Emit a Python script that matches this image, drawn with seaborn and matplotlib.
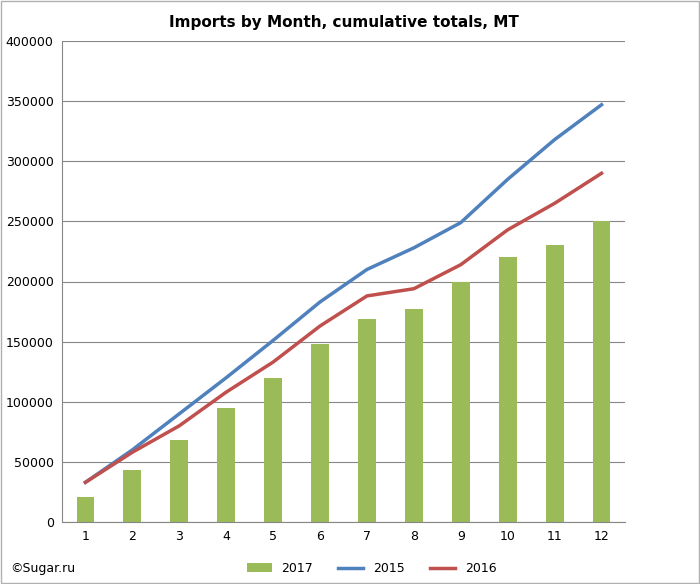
import numpy as np
import pandas as pd
import matplotlib
matplotlib.use("Agg")
import matplotlib.pyplot as plt
import seaborn as sns

months = list(range(1, 13))
imports_2017 = [21000, 43000, 68000, 95000, 120000, 148000, 169000, 177000, 200000, 220000, 230000, 250000]
imports_2015 = [33000, 60000, 90000, 120000, 151000, 183000, 210000, 228000, 249000, 285000, 318000, 347000]
imports_2016 = [33000, 58000, 80000, 108000, 133000, 163000, 188000, 194000, 214000, 243000, 265000, 290000]

df = pd.DataFrame({"month": months, "2017": imports_2017, "2015": imports_2015, "2016": imports_2016})

fig = plt.figure(figsize=(7.0, 5.84), dpi=100)
ax = fig.add_axes([62 / 700, 62 / 584, 563 / 700, 481 / 584])

x = np.arange(len(months))
sns.barplot(x=x, y=df["2017"], color="#9bbb59", width=0.38, saturation=1, ax=ax, label="2017", zorder=2)
ax.plot(x, df["2015"], color="#4f81bd", lw=2.5, label="2015", zorder=3)
ax.plot(x, df["2016"], color="#c0504d", lw=2.5, label="2016", zorder=3)

ax.set_xlim(-0.5, 11.5)
ax.set_ylim(0, 400000)
ax.set_yticks(range(0, 400001, 50000))
ax.set_xticks(x)
ax.set_xticklabels([str(m) for m in months])
ax.yaxis.grid(True, color="#868686", lw=0.8, zorder=0)
ax.set_axisbelow(True)
for s in ["top", "right"]:
    ax.spines[s].set_visible(False)
ax.spines["left"].set_color("#868686")
ax.spines["bottom"].set_color("#868686")
ax.tick_params(labelsize=9, length=0, pad=6)
ax.set_xlabel("")
ax.set_ylabel("")
ax.set_title("Imports by Month, cumulative totals, MT", fontsize=11, fontweight="bold", pad=10)

handles, labels = ax.get_legend_handles_labels()
order = [labels.index(l) for l in ["2017", "2015", "2016"]]
ax.legend([handles[i] for i in order], [labels[i] for i in order],
          loc="upper center", bbox_to_anchor=(0.55, -0.06), ncol=3, frameon=False, fontsize=9)
fig.text(10 / 700, 12 / 584, "©Sugar.ru", fontsize=9)
fig.patches.append(plt.Rectangle((0.002, 0.002), 0.996, 0.996, transform=fig.transFigure,
                                 fill=False, edgecolor="#b0b0b0", lw=1))
fig.savefig("out.png", dpi=100)
